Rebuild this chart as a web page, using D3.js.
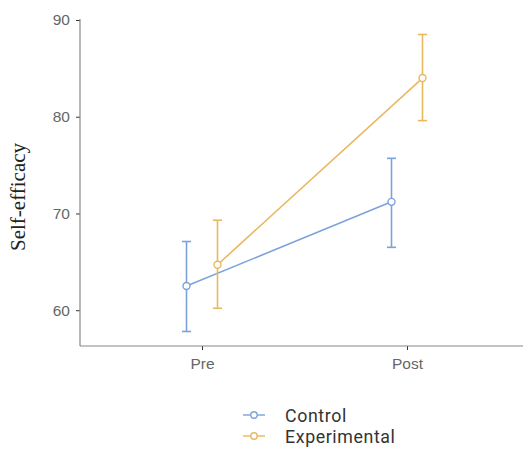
<!DOCTYPE html>
<html><head><meta charset="utf-8">
<script src="https://cdn.jsdelivr.net/npm/d3@7"></script>
<style>body{margin:0;background:#fff}</style>
</head><body>
<svg id="c" width="523" height="452"></svg>
<script>
const times = ["Pre", "Post"];
const groups = ["Control", "Experimental"];
const colors = ["#7ca2dc", "#e8b85e"];
const controlMean = [62.5, 71.2];
const controlLow = [57.8, 66.5];
const controlHigh = [67.1, 75.7];
const expMean = [64.7, 84.0];
const expLow = [60.2, 79.6];
const expHigh = [69.3, 88.5];
const yTicks = [60, 70, 80, 90];

(function () {
const series = [
  {name: groups[0], color: colors[0], mean: controlMean, lo: controlLow, hi: controlHigh, dodge: -15.5},
  {name: groups[1], color: colors[1], mean: expMean, lo: expLow, hi: expHigh, dodge: 15.5}
];

const svg = d3.select("#c");
const mLeft = 80, mRight = 523, mTop = 20, mBottom = 346;
const x = d3.scalePoint().domain(times).range([202, 407]);
const y = d3.scaleLinear().domain([56.3, 90]).range([mBottom, mTop]);
const tickFont = "'Liberation Sans', Arial, sans-serif";

const yAxis = svg.append("g").attr("transform", `translate(${mLeft},0)`)
  .call(d3.axisLeft(y).tickValues(yTicks).tickSize(4).tickPadding(6).tickSizeOuter(0));
yAxis.select(".domain").remove();
yAxis.selectAll("text").attr("fill", "#666").style("font-family", tickFont).style("font-size", "15.5px");
yAxis.selectAll("line").attr("stroke", "#333");
svg.append("line").attr("x1", mLeft).attr("x2", mLeft).attr("y1", mTop - 1).attr("y2", mBottom)
  .attr("stroke", "#888").attr("stroke-width", 1.2);

const xAxis = svg.append("g").attr("transform", `translate(0,${mBottom})`)
  .call(d3.axisBottom(x).tickSize(4).tickPadding(8).tickSizeOuter(0));
xAxis.select(".domain").remove();
xAxis.selectAll("text").attr("fill", "#666").style("font-family", tickFont).style("font-size", "15.5px");
xAxis.selectAll("line").attr("stroke", "#333");
svg.append("line").attr("x1", mLeft).attr("x2", mRight).attr("y1", mBottom).attr("y2", mBottom)
  .attr("stroke", "#888").attr("stroke-width", 1.2);

svg.append("text").attr("transform", `translate(25,197) rotate(-90)`)
  .attr("text-anchor", "middle").style("font-family", "'Liberation Serif', 'Times New Roman', serif")
  .style("font-size", "21px").attr("fill", "#222").text("Self-efficacy");

series.forEach(s => {
  const g = svg.append("g");
  const px = i => x(times[i]) + s.dodge;
  const line = d3.line().x((d, i) => px(i)).y(d => y(d));
  g.append("path").datum(s.mean).attr("d", line).attr("fill", "none")
    .attr("stroke", s.color).attr("stroke-width", 1.6);
  times.forEach((t, i) => {
    g.append("line").attr("x1", px(i)).attr("x2", px(i)).attr("y1", y(s.lo[i])).attr("y2", y(s.hi[i]))
      .attr("stroke", s.color).attr("stroke-width", 1.6);
    [s.lo[i], s.hi[i]].forEach(v => {
      g.append("line").attr("x1", px(i) - 4.5).attr("x2", px(i) + 4.5).attr("y1", y(v)).attr("y2", y(v))
        .attr("stroke", s.color).attr("stroke-width", 1.6);
    });
  });
  g.selectAll("circle").data(s.mean).join("circle")
    .attr("cx", (d, i) => px(i)).attr("cy", d => y(d)).attr("r", 3.5)
    .attr("fill", "#fff").attr("stroke", s.color).attr("stroke-width", 1.4);
});

const legY = [415, 436];
series.forEach((s, i) => {
  const g = svg.append("g").attr("transform", `translate(0,${legY[i]})`);
  g.append("line").attr("x1", 243).attr("x2", 265).attr("y1", 0).attr("y2", 0)
    .attr("stroke", s.color).attr("stroke-width", 1.4);
  g.append("circle").attr("cx", 254).attr("cy", 0).attr("r", 3.2).attr("fill", "#fff")
    .attr("stroke", s.color).attr("stroke-width", 1.4);
  g.append("text").attr("x", 285).attr("y", 6.5).style("font-family", "Roboto, sans-serif")
    .style("font-size", "17.8px").style("letter-spacing", "0.6px").attr("fill", "#333").text(s.name);
});
})();
</script>
</body></html>
